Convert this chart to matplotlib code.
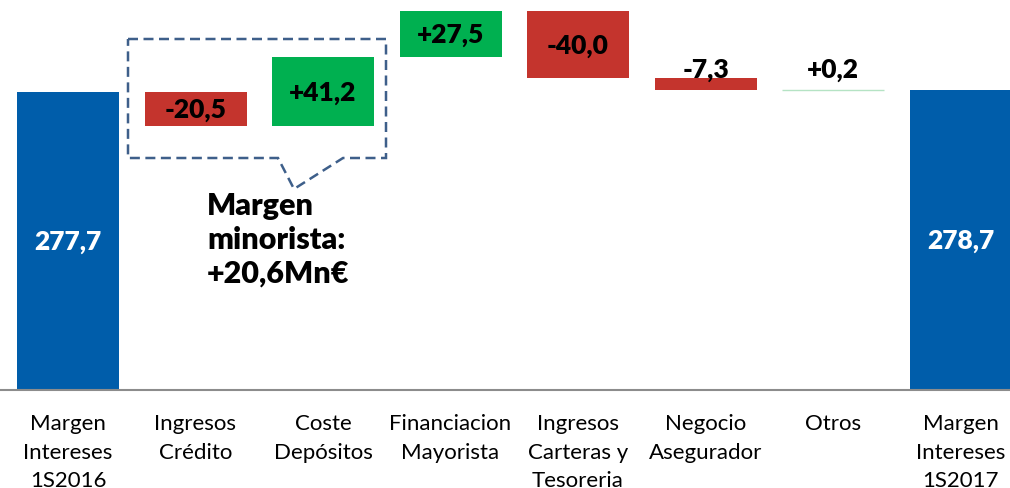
import matplotlib
matplotlib.use("Agg")
import matplotlib.pyplot as plt
from matplotlib.patches import Polygon

categories = ["Margen\nIntereses\n1S2016", "Ingresos\nCrédito", "Coste\nDepósitos",
              "Financiacion\nMayorista", "Ingresos\nCarteras y\nTesoreria",
              "Negocio\nAsegurador", "Otros", "Margen\nIntereses\n1S2017"]
start_value = 277.7
deltas = [-20.5, 41.2, 27.5, -40.0, -7.3, 0.2]
end_value = 278.7
callout_text = "Margen\nminorista:\n+20,6Mn€"

BLUE = "#005DAA"
RED = "#C4342D"
GREEN = "#00B050"
LIGHTGREEN = "#B5E3C4"

def fmt(v, sign=True):
    s = f"{v:+.1f}" if sign else f"{v:.1f}"
    return s.replace(".", ",")

W, H = 1010, 489
fig = plt.figure(figsize=(W / 100, H / 100), dpi=100)
ax = fig.add_axes([0, (H - 390.7) / H, 1, 390.7 / H])
ax.set_xlim(-68 / 127.5, 942 / 127.5)
ax.set_ylim(100.5, 100.5 + 390.7 / 1.68)

bw = 0.8
ymin = ax.get_ylim()[0]
num_font = dict(family="Lato", weight="heavy")
NUM_FS = 19

# start bar
ax.bar(0, start_value - ymin, bottom=ymin, width=bw, color=BLUE)
ax.text(0, (start_value + ymin) / 2, fmt(start_value, False), ha="center", va="center",
        color="white", fontsize=NUM_FS, **num_font)

level = start_value
small_label_y = None
for i, d in enumerate(deltas, start=1):
    lo, hi = (level, level + d) if d >= 0 else (level + d, level)
    if abs(d) < 1:
        ax.bar(i, hi - lo, bottom=lo, width=bw, color=LIGHTGREEN, edgecolor=LIGHTGREEN, linewidth=1)
    else:
        ax.bar(i, hi - lo, bottom=lo, width=bw, color=GREEN if d > 0 else RED)
    if abs(d) >= 15:
        ax.text(i, (lo + hi) / 2, fmt(d), ha="center", va="center", color="black",
                fontsize=NUM_FS, **num_font)
    else:
        if small_label_y is None:
            small_label_y = hi
        ax.annotate(fmt(d), (i, small_label_y), xytext=(0, -2), textcoords="offset points",
                    ha="center", va="bottom", color="black", fontsize=NUM_FS, **num_font)
    level += d

n = len(categories) - 1
ax.bar(n, end_value - ymin, bottom=ymin, width=bw, color=BLUE)
ax.text(n, (end_value + ymin) / 2, fmt(end_value, False), ha="center", va="center",
        color="white", fontsize=NUM_FS, **num_font)

for s in ["top", "right", "left"]:
    ax.spines[s].set_visible(False)
ax.spines["bottom"].set_color("#8C8C8C")
ax.spines["bottom"].set_linewidth(1.5)
ax.set_yticks([])
ax.set_xticks(range(len(categories)))
ax.set_xticklabels(categories, fontsize=16, family="Lato", linespacing=1.52)
ax.tick_params(axis="x", length=0, pad=17)

# callout (figure pixel coordinates)
pts = [(128, 40), (386, 40), (386, 159), (343, 159), (294, 190), (278, 159), (128, 159)]
poly = Polygon([(x / W, 1 - y / H) for x, y in pts], closed=True, fill=False,
               edgecolor="#3E5F8A", linewidth=1.8, linestyle=(0, (4, 2.2)),
               transform=fig.transFigure)
fig.add_artist(poly)
fig.text(207 / W, 1 - 192 / H, callout_text, ha="left", va="top", fontsize=22,
         linespacing=1.24, color="black", **num_font)

fig.savefig("out.png", dpi=100)
